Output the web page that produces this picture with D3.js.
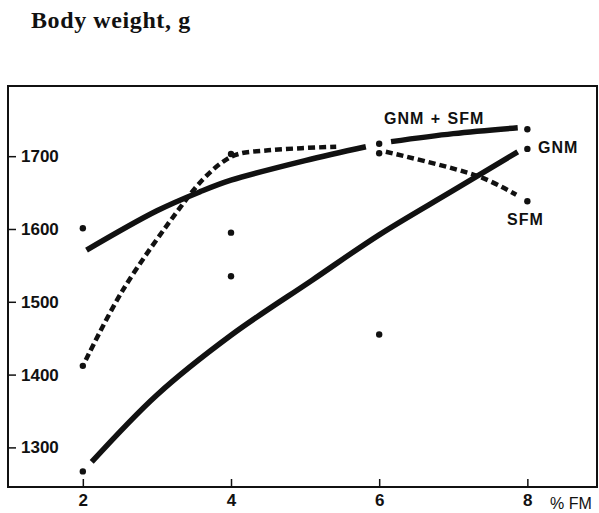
<!DOCTYPE html>
<html>
<head>
<meta charset="utf-8">
<script src="https://cdn.jsdelivr.net/npm/d3@7"></script>
<style>
  body { margin: 0; background: #fff; }
  text { fill: #111; }
</style>
</head>
<body>
<div id="chart"></div>
<script>
// ticks
const xTicks = [2, 4, 6, 8];
const yTicks = [1300, 1400, 1500, 1600, 1700];

// observed dots at 2, 4, 6, 8 % FM
const dotX = [2, 4, 6, 8];
const dotsMix = [1601, 1595, 1717, 1737];
const dotsSfm = [1412, 1703, 1704, 1638];
const dotsGnm = [1267, 1535, 1455, 1710];

// fitted curves (null = break in the line)
const mixX = [2.05, 3, 3.58, 4, 5, 5.82, null, 6.16, 7, 7.87];
const mixY = [1571, 1625, 1651, 1667, 1694, 1713, null, 1720, 1731, 1739];
const gnmX = [2.12, 3, 4, 5.1, 6, 7, 7.87];
const gnmY = [1280, 1372, 1454, 1530, 1592, 1653, 1706];
const sfmX = [2.04, 2.54, 3.31, 3.62, 3.9, 4.1, 4.5, 4.95, 5.42, null, 6.09, 7.35, 7.85];
const sfmY = [1420, 1516, 1629, 1668, 1693, 1703, 1708, 1711, 1713, null, 1706, 1672, 1647];

const svgWidth = 599, svgHeight = 513;
const box = { left: 8, top: 86, right: 597, bottom: 487 };

const svg = d3.select('#chart').append('svg')
    .attr('width', svgWidth)
    .attr('height', svgHeight)
    .style('font-family', '"Liberation Sans", Arial, sans-serif');

const xScale = d3.scaleLinear([0.99, 8.94], [box.left, box.right]);
const yScale = d3.scaleLinear([1245.6, 1796.4], [box.bottom, box.top]);

// title
svg.append('text')
    .attr('x', 31)
    .attr('y', 28)
    .style('font-family', '"Liberation Serif", "Times New Roman", serif')
    .style('font-size', '24px')
    .style('font-weight', 700)
    .style('letter-spacing', '0.6px')
    .text('Body weight, g');

// frame
svg.append('rect')
    .attr('x', box.left)
    .attr('y', box.top)
    .attr('width', box.right - box.left)
    .attr('height', box.bottom - box.top)
    .attr('fill', 'none')
    .attr('stroke', '#111')
    .attr('stroke-width', 2);

// y axis: ticks point inward, labels inside the box
const yAxis = svg.append('g')
    .attr('transform', `translate(${box.left}, 0)`)
    .call(d3.axisRight(yScale).tickValues(yTicks).tickFormat(d3.format('d')).tickSize(8).tickPadding(5));
// x axis: ticks point up, labels below
const xAxis = svg.append('g')
    .attr('transform', `translate(0, ${box.bottom})`)
    .call(d3.axisBottom(xScale).tickValues(xTicks).tickFormat(d3.format('d')).tickSize(-8).tickPadding(7));

[xAxis, yAxis].forEach(ax => {
    ax.select('.domain').remove();
    ax.selectAll('line').attr('stroke', '#111').attr('stroke-width', 1.5);
    ax.selectAll('text')
        .attr('fill', '#111')
        .style('font-family', '"Liberation Sans", Arial, sans-serif')
        .style('font-size', '17px')
        .style('font-weight', 700);
});

svg.append('text')
    .attr('x', 550)
    .attr('y', 509)
    .style('font-size', '16px')
    .style('font-weight', 400)
    .text('% FM');

// lines
const line = d3.line()
    .defined(d => d[0] !== null)
    .x(d => xScale(d[0]))
    .y(d => yScale(d[1]))
    .curve(d3.curveCatmullRom);

const zip = (xs, ys) => xs.map((x, i) => [x, ys[i]]);

svg.append('path')
    .attr('d', line(zip(gnmX, gnmY)))
    .attr('fill', 'none')
    .attr('stroke', '#111')
    .attr('stroke-width', 5.5);

svg.append('path')
    .attr('d', line(zip(mixX, mixY)))
    .attr('fill', 'none')
    .attr('stroke', '#111')
    .attr('stroke-width', 5.5);

svg.append('path')
    .attr('d', line(zip(sfmX, sfmY)))
    .attr('fill', 'none')
    .attr('stroke', '#111')
    .attr('stroke-width', 4.5)
    .attr('stroke-dasharray', '7,4');

// dots
const dots = [].concat(zip(dotX, dotsMix), zip(dotX, dotsSfm), zip(dotX, dotsGnm));
svg.append('g').selectAll('circle')
    .data(dots)
    .enter()
    .append('circle')
    .attr('cx', d => xScale(d[0]))
    .attr('cy', d => yScale(d[1]))
    .attr('r', 3.2)
    .attr('fill', '#111');

// line labels
const labels = [
    { text: 'GNM + SFM', x: 384, y: 124 },
    { text: 'GNM', x: 538, y: 153 },
    { text: 'SFM', x: 507, y: 225 }
];
svg.append('g').selectAll('text')
    .data(labels)
    .enter()
    .append('text')
    .attr('x', d => d.x)
    .attr('y', d => d.y)
    .style('font-size', '16px')
    .style('font-weight', 700)
    .style('letter-spacing', '1px')
    .style('word-spacing', '1px')
    .text(d => d.text);
</script>
</body>
</html>
